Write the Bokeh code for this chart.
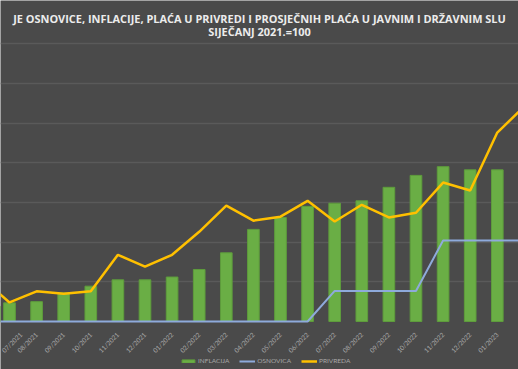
from math import pi
from bokeh.plotting import figure
from bokeh.models import Range1d, FixedTicker, Grid, Label, Legend, LegendItem, ColumnDataSource
from bokeh.embed import file_html
from bokeh.resources import INLINE

# ---- data (index, siječanj 2021. = 100) ----
months = ["06/2021", "07/2021", "08/2021", "09/2021", "10/2021", "11/2021", "12/2021",
          "01/2022", "02/2022", "03/2022", "04/2022", "05/2022", "06/2022", "07/2022",
          "08/2022", "09/2022", "10/2022", "11/2022", "12/2022", "01/2023", "02/2023"]
inflacija = [101.9, 102.35, 102.5, 103.6, 104.45, 105.25, 105.25, 105.6, 106.55, 108.65,
             111.6, 113.1, 114.5, 114.9, 115.2, 116.9, 118.4, 119.5, 119.1, 119.1, 119.5]
osnovica = [100, 100, 100, 100, 100, 100, 100, 100, 100, 100, 100, 100, 100,
            103.85, 103.85, 103.85, 103.85, 110.2, 110.2, 110.2, 110.2]
privreda = [105.4, 102.4, 103.8, 103.5, 103.8, 108.4, 106.9, 108.4, 111.3, 114.6, 112.7,
            113.2, 115.2, 112.6, 114.7, 113.1, 113.7, 117.5, 116.5, 123.8, 127.1]
base_value = 100
grid_ticks = [105, 110, 115, 120, 125, 130, 135]
title_1 = "JE OSNOVICE, INFLACIJE, PLAĆA U PRIVREDI I PROSJEČNIH PLAĆA U JAVNIM I DRŽAVNIM SLU"
title_2 = "SIJEČANJ 2021.=100"

BG = "#4a4a4a"
W, H = 518, 369
BASE_PX = 321          # screen row of the 100 baseline
px_per_cat = 27.1
px_per_unit = 7.94

x0 = 1 - 9 / px_per_cat
x1 = x0 + W / px_per_cat
y0 = base_value - (H - BASE_PX) / px_per_unit
y1 = y0 + H / px_per_unit

src = ColumnDataSource(dict(x=list(range(len(months))), infl=inflacija, osn=osnovica, priv=privreda))

p = figure(width=W, height=H, output_backend="svg", toolbar_location=None,
           x_range=Range1d(x0, x1), y_range=Range1d(y0, y1), y_axis_location=None,
           title=None, min_border=0, background_fill_color=BG, border_fill_color=BG,
           outline_line_color=None)

for g in p.grid:
    g.visible = False
p.add_layout(Grid(dimension=1, ticker=FixedTicker(ticks=grid_ticks),
                  grid_line_color="#5a5a5a", grid_line_width=1.5))

bars = p.vbar(x="x", top="infl", bottom=base_value, width=0.43, source=src,
              fill_color="#6aae45", line_color="#5e9c3c", line_width=1)
l_osn = p.line(x="x", y="osn", source=src, line_color="#8eaadb", line_width=2)
l_priv = p.line(x="x", y="priv", source=src, line_color="#ffc000", line_width=2.5)

ax = p.xaxis[0]
ax.fixed_location = base_value
ax.ticker = FixedTicker(ticks=list(range(1, len(months))))
ax.major_label_overrides = {i: m for i, m in enumerate(months)}
ax.major_label_orientation = pi / 4
ax.major_label_text_font = "Lato"
ax.major_label_text_font_size = "6.5px"
ax.major_label_text_color = "#a8a8a8"
ax.major_label_standoff = 6
ax.major_tick_line_color = None
ax.minor_tick_line_color = None
ax.axis_line_color = None

xc = (x0 + x1) / 2
for txt, by in [(title_1, 17.5), (title_2, 31.0)]:
    p.add_layout(Label(x=xc, y=y1 - by / px_per_unit, text=txt, text_align="center",
                       text_baseline="alphabetic", text_font="Open Sans",
                       text_font_style="bold", text_font_size="10.95px", text_color="#ececec"))

legend = Legend(items=[LegendItem(label="INFLACIJA", renderers=[bars]),
                       LegendItem(label="OSNOVICA", renderers=[l_osn]),
                       LegendItem(label="PRIVREDA", renderers=[l_priv])],
                location=(180, 5), orientation="horizontal",
                background_fill_alpha=0, border_line_color=None,
                label_text_color="#a8a8a8", label_text_font="Lato",
                label_text_font_size="6.5px", glyph_width=16, glyph_height=4,
                padding=0, margin=0, spacing=10, label_standoff=2)
p.add_layout(legend)

open("out.html", "w").write(file_html(p, INLINE))
